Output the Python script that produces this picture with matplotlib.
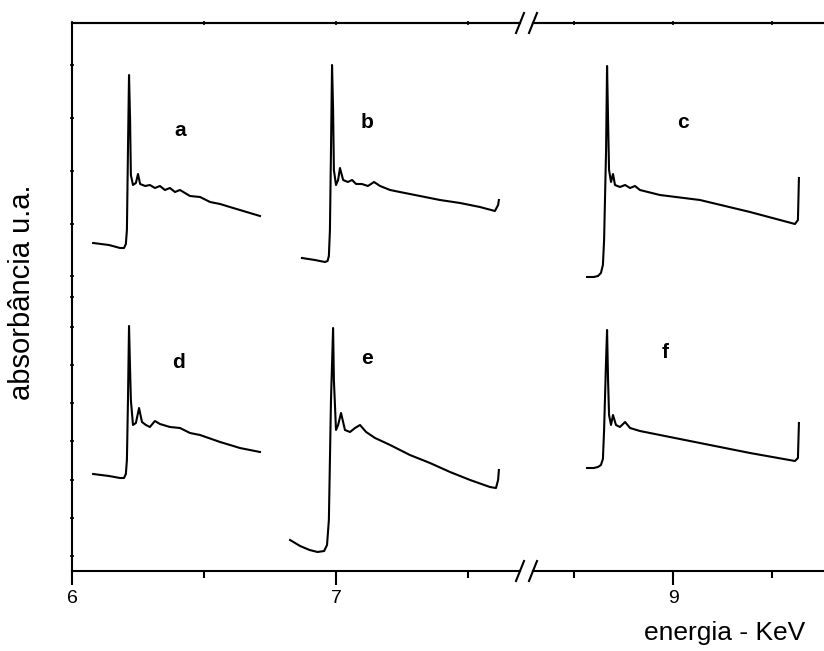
import matplotlib.pyplot as plt

# espectros XANES (absorbancia u.a.), leitura aproximada do grafico
# paineis a, b, d, e -> segmento esquerdo (6 - 7.7 keV)
# paineis c, f -> segmento direito (depois da quebra)

x_a = [6.080, 6.140, 6.182, 6.197, 6.204, 6.208, 6.212, 6.216, 6.220, 6.223, 6.231, 6.242,
       6.250, 6.258, 6.277, 6.295, 6.314, 6.333, 6.352, 6.371, 6.390, 6.409, 6.447, 6.485,
       6.523, 6.561, 6.598, 6.636, 6.674, 6.712]
y_a = [3.28, 3.26, 3.23, 3.23, 3.27, 3.41, 4.21, 4.96, 4.51, 3.96, 3.86, 3.88,
       3.97, 3.87, 3.85, 3.86, 3.83, 3.85, 3.81, 3.83, 3.79, 3.81, 3.75, 3.74,
       3.69, 3.67, 3.64, 3.61, 3.58, 3.55]

x_b = [6.871, 6.920, 6.958, 6.968, 6.973, 6.977, 6.981, 6.985, 6.989, 6.992, 7.000, 7.008,
       7.015, 7.027, 7.045, 7.061, 7.076, 7.098, 7.121, 7.144, 7.167, 7.205, 7.242, 7.318,
       7.394, 7.470, 7.545, 7.602, 7.614, 7.617]
y_b = [3.13, 3.11, 3.09, 3.10, 3.15, 3.41, 4.21, 5.06, 4.61, 4.01, 3.86, 3.91,
       4.03, 3.91, 3.89, 3.91, 3.87, 3.87, 3.85, 3.89, 3.85, 3.81, 3.79, 3.75,
       3.71, 3.68, 3.64, 3.60, 3.66, 3.71]

x_c = [8.566, 8.600, 8.621, 8.636, 8.646, 8.652, 8.662, 8.667, 8.672, 8.677, 8.687, 8.697,
       8.707, 8.732, 8.758, 8.783, 8.808, 8.833, 8.934, 9.136, 9.389, 9.616, 9.631, 9.636]
y_c = [2.94, 2.94, 2.95, 2.98, 3.06, 3.31, 4.21, 5.05, 4.51, 4.01, 3.89, 3.97,
       3.86, 3.84, 3.86, 3.83, 3.85, 3.81, 3.76, 3.71, 3.59, 3.47, 3.51, 3.93]

x_d = [6.080, 6.140, 6.182, 6.197, 6.204, 6.208, 6.212, 6.216, 6.220, 6.223, 6.231, 6.242,
       6.254, 6.265, 6.280, 6.295, 6.314, 6.333, 6.371, 6.409, 6.447, 6.485, 6.561, 6.636,
       6.712]
y_d = [0.97, 0.95, 0.93, 0.93, 0.97, 1.11, 1.71, 2.45, 2.01, 1.71, 1.46, 1.48,
       1.63, 1.49, 1.46, 1.44, 1.50, 1.47, 1.44, 1.43, 1.38, 1.36, 1.29, 1.23,
       1.19]

x_e = [6.826, 6.864, 6.900, 6.930, 6.955, 6.966, 6.973, 6.981, 6.989, 6.992, 7.000, 7.008,
       7.019, 7.034, 7.053, 7.072, 7.091, 7.114, 7.148, 7.205, 7.280, 7.356, 7.432, 7.508,
       7.583, 7.606, 7.614, 7.617]
y_e = [0.31, 0.25, 0.21, 0.19, 0.20, 0.26, 0.51, 1.71, 2.43, 1.91, 1.41, 1.46,
       1.58, 1.41, 1.39, 1.43, 1.46, 1.39, 1.33, 1.26, 1.16, 1.08, 0.99, 0.91,
       0.84, 0.83, 0.91, 1.01]

x_f = [8.566, 8.600, 8.621, 8.636, 8.646, 8.652, 8.662, 8.667, 8.672, 8.677, 8.687, 8.697,
       8.712, 8.732, 8.758, 8.783, 8.833, 8.934, 9.136, 9.389, 9.616, 9.631, 9.636]
y_f = [1.03, 1.03, 1.04, 1.06, 1.12, 1.41, 2.11, 2.41, 1.91, 1.56, 1.46, 1.56,
       1.46, 1.44, 1.49, 1.43, 1.40, 1.36, 1.28, 1.18, 1.10, 1.13, 1.48]

letras = ['a', 'b', 'c', 'd', 'e', 'f']
pos_letras = [(6.409, 4.41), (7.117, 4.48), (9.05, 4.48), (6.402, 2.08), (7.117, 2.13), (8.96, 2.19)]

y_ticks = [5.06, 4.53, 4.00, 3.47, 2.95, 2.74, 2.44, 2.06, 1.68, 1.30, 0.91, 0.53, 0.15]

W, H = 824, 651
fig = plt.figure(figsize=(W / 100, H / 100), dpi=100)
plt.rcParams['font.family'] = ['Liberation Sans', 'DejaVu Sans']

bot = (H - 571) / H
alt = (571 - 23) / H
ax1 = fig.add_axes([72 / W, bot, (520 - 72) / W, alt])
ax2 = fig.add_axes([533 / W, bot, (W - 533) / W, alt])

ax1.set_xlim(6, 6 + (520 - 72) / 264)
ax2.set_xlim(9 - (673 - 533) / 198, 9 + (W - 673) / 198)
for ax in (ax1, ax2):
    ax.set_ylim(0, 5.48)
    for s in ax.spines.values():
        s.set_linewidth(1.5)

ax1.spines['right'].set_visible(False)
ax2.spines['left'].set_visible(False)
ax2.spines['right'].set_visible(False)

kw = dict(color='black', lw=1.5)
ax1.plot(x_a, y_a, **kw)
ax1.plot(x_b, y_b, **kw)
ax1.plot(x_d, y_d, **kw)
ax1.plot(x_e, y_e, **kw)
ax2.plot(x_c, y_c, **kw)
ax2.plot(x_f, y_f, **kw)

for i, l in enumerate(letras):
    ax = ax2 if l in ('c', 'f') else ax1
    ax.text(pos_letras[i][0], pos_letras[i][1], l, fontsize=15, fontweight='bold',
            ha='center', va='center')

# eixo x (embaixo)
ax1.set_xticks([6, 7])
ax1.set_xticks([6.5, 7.5], minor=True)
ax2.set_xticks([9])
ax2.set_xticks([8.5, 9.5], minor=True)
for ax in (ax1, ax2):
    ax.tick_params(axis='x', which='major', direction='out', length=10, width=1.5,
                   labelsize=14, pad=4)
    ax.tick_params(axis='x', which='minor', direction='out', length=5, width=1.5)
    # marcas pequenas em cima
    sec = ax.secondary_xaxis('top')
    sec.set_xticks(list(ax.get_xticks()) + list(ax.get_xticks(minor=True)))
    sec.set_xticklabels([])
    sec.tick_params(direction='inout', length=3, width=1.2)
    sec.spines['top'].set_linewidth(1.5)

# eixo y: so marcas pequenas, sem rotulos
ax1.set_yticks(y_ticks)
ax1.set_yticklabels([])
ax1.tick_params(axis='y', direction='inout', length=3, width=1.2)
ax2.set_yticks([])

# marcas de quebra //
for ax, xb in ((ax1, 1.0), (ax2, 0.0)):
    bb = ax.get_position()
    dx = 4 / (bb.width * W)
    dy = 10 / (bb.height * H)
    for yb in (0, 1):
        ax.plot([xb - dx, xb + dx], [yb - dy, yb + dy], transform=ax.transAxes,
                color='black', lw=1.5, clip_on=False)

fig.text(22 / W, 1 - 292 / H, 'absorbância u.a.', rotation=90, fontsize=21,
         ha='center', va='center')
fig.text(805 / W, 1 - 633 / H, 'energia - KeV', fontsize=19, ha='right', va='center')

fig.savefig('out.png', dpi=100)
